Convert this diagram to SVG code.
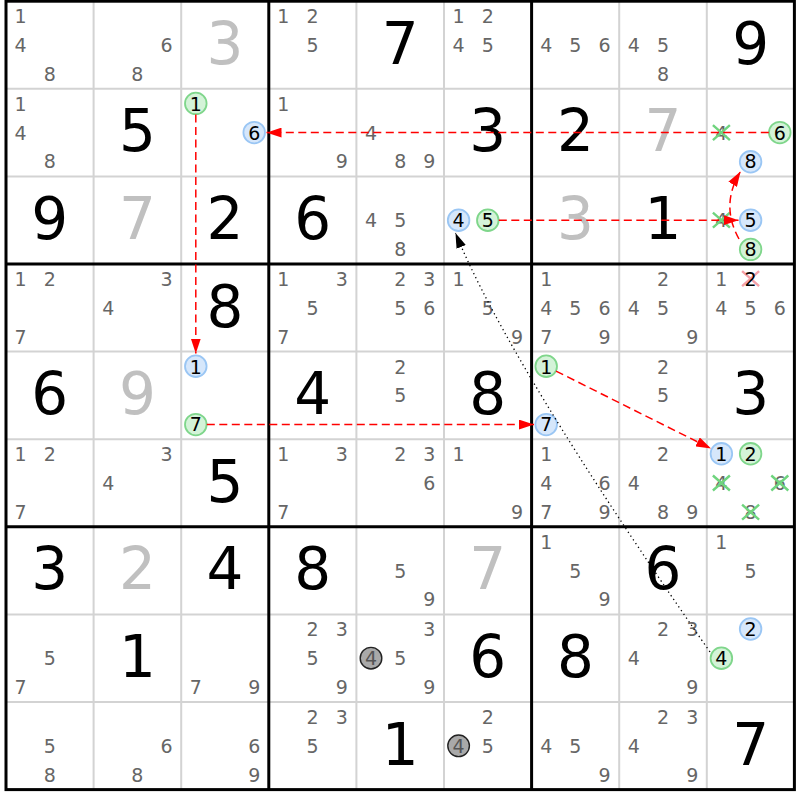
<svg xmlns="http://www.w3.org/2000/svg" width="800" height="800" viewBox="0 0 800 800">
<defs>
<style>
text{font-family:"DejaVu Sans","Liberation Sans",sans-serif;text-anchor:middle}
.g{font-size:58px;fill:#000}
.s{fill:#c0c0c0}
.c{font-size:19px;fill:#666}
.k{font-size:19px;fill:#000}
.kx{font-size:19px;fill:#555}
.cg{fill:#d4f3d8;stroke:#7fd68b;stroke-width:1.8}
.cb{fill:#d6e7fb;stroke:#9ac6f4;stroke-width:1.8}
.cx{fill:#a9a9a9;stroke:#222;stroke-width:1.4}
.xg{stroke:#6fd47e;stroke-width:2.4;fill:none}
.xr{stroke:#f5a0a8;stroke-width:2.4;fill:none}
.thin{stroke:#d3d3d3;stroke-width:2}
.thick{stroke:#000;stroke-width:3}
.ln{fill:none;stroke:#f00;stroke-width:1.5;stroke-dasharray:8 4.5}
</style>
<marker id="ar" viewBox="0 0 15 10" refX="15" refY="5" markerWidth="15" markerHeight="10" markerUnits="userSpaceOnUse" orient="auto"><path d="M0,0 L15,5 L0,10 z" fill="#f00"/></marker>
<marker id="ab" viewBox="0 0 15 10" refX="15" refY="5" markerWidth="15" markerHeight="10" markerUnits="userSpaceOnUse" orient="auto"><path d="M0,0 L15,5 L0,10 z" fill="#000"/></marker>
</defs>
<rect width="800" height="800" fill="#fff"/>
<g id="grid">
<path class="thin" d="M93.6,1.2V789.6M181.2,1.2V789.6M356.4,1.2V789.6M444,1.2V789.6M619.2,1.2V789.6M706.8,1.2V789.6M6,88.8H794.4M6,176.4H794.4M6,351.6H794.4M6,439.2H794.4M6,614.4H794.4M6,702H794.4"/>
<path class="thick" d="M268.8,1.2V789.6M531.6,1.2V789.6M6,264H794.4M6,526.8H794.4"/>
<rect x="6" y="1.2" width="788.4" height="788.4" fill="none" stroke="#000" stroke-width="3"/>
</g>

<g id="r1c1" transform="translate(6,1.2)"><text class="c" x="14.6" y="22">1</text><text class="c" x="14.6" y="50.8">4</text><text class="c" x="43.8" y="79.5">8</text></g>
<g id="r1c2" transform="translate(93.6,1.2)"><text class="c" x="73" y="50.8">6</text><text class="c" x="43.8" y="79.5">8</text></g>
<g id="r1c3" transform="translate(181.2,1.2)"><text class="g s" x="43.8" y="62.5">3</text></g>
<g id="r1c4" transform="translate(268.8,1.2)"><text class="c" x="14.6" y="22">1</text><text class="c" x="43.8" y="22">2</text><text class="c" x="43.8" y="50.8">5</text></g>
<g id="r1c5" transform="translate(356.4,1.2)"><text class="g" x="43.8" y="62.5">7</text></g>
<g id="r1c6" transform="translate(444,1.2)"><text class="c" x="14.6" y="22">1</text><text class="c" x="43.8" y="22">2</text><text class="c" x="14.6" y="50.8">4</text><text class="c" x="43.8" y="50.8">5</text></g>
<g id="r1c7" transform="translate(531.6,1.2)"><text class="c" x="14.6" y="50.8">4</text><text class="c" x="43.8" y="50.8">5</text><text class="c" x="73" y="50.8">6</text></g>
<g id="r1c8" transform="translate(619.2,1.2)"><text class="c" x="14.6" y="50.8">4</text><text class="c" x="43.8" y="50.8">5</text><text class="c" x="43.8" y="79.5">8</text></g>
<g id="r1c9" transform="translate(706.8,1.2)"><text class="g" x="43.8" y="62.5">9</text></g>

<g id="r2c1" transform="translate(6,88.8)"><text class="c" x="14.6" y="22">1</text><text class="c" x="14.6" y="50.8">4</text><text class="c" x="43.8" y="79.5">8</text></g>
<g id="r2c2" transform="translate(93.6,88.8)"><text class="g" x="43.8" y="62.5">5</text></g>
<g id="r2c3" transform="translate(181.2,88.8)"><circle class="cg" cx="14.6" cy="14.6" r="10.8"/><text class="k" x="14.6" y="22">1</text><circle class="cb" cx="73" cy="43.8" r="10.8"/><text class="k" x="73" y="50.8">6</text></g>
<g id="r2c4" transform="translate(268.8,88.8)"><text class="c" x="14.6" y="22">1</text><text class="c" x="73" y="79.5">9</text></g>
<g id="r2c5" transform="translate(356.4,88.8)"><text class="c" x="14.6" y="50.8">4</text><text class="c" x="43.8" y="79.5">8</text><text class="c" x="73" y="79.5">9</text></g>
<g id="r2c6" transform="translate(444,88.8)"><text class="g" x="43.8" y="62.5">3</text></g>
<g id="r2c7" transform="translate(531.6,88.8)"><text class="g" x="43.8" y="62.5">2</text></g>
<g id="r2c8" transform="translate(619.2,88.8)"><text class="g s" x="43.8" y="62.5">7</text></g>
<g id="r2c9" transform="translate(706.8,88.8)"><text class="c" x="14.6" y="50.8">4</text><path class="xg" d="M6.1,36.3L23.1,51.3M23.1,36.3L6.1,51.3"/><circle class="cg" cx="73" cy="43.8" r="10.8"/><text class="k" x="73" y="50.8">6</text><circle class="cb" cx="43.8" cy="73" r="10.8"/><text class="k" x="43.8" y="79.5">8</text></g>

<g id="r3c1" transform="translate(6,176.4)"><text class="g" x="43.8" y="62.5">9</text></g>
<g id="r3c2" transform="translate(93.6,176.4)"><text class="g s" x="43.8" y="62.5">7</text></g>
<g id="r3c3" transform="translate(181.2,176.4)"><text class="g" x="43.8" y="62.5">2</text></g>
<g id="r3c4" transform="translate(268.8,176.4)"><text class="g" x="43.8" y="62.5">6</text></g>
<g id="r3c5" transform="translate(356.4,176.4)"><text class="c" x="14.6" y="50.8">4</text><text class="c" x="43.8" y="50.8">5</text><text class="c" x="43.8" y="79.5">8</text></g>
<g id="r3c6" transform="translate(444,176.4)"><circle class="cb" cx="14.6" cy="43.8" r="10.8"/><text class="k" x="14.6" y="50.8">4</text><circle class="cg" cx="43.8" cy="43.8" r="10.8"/><text class="k" x="43.8" y="50.8">5</text></g>
<g id="r3c7" transform="translate(531.6,176.4)"><text class="g s" x="43.8" y="62.5">3</text></g>
<g id="r3c8" transform="translate(619.2,176.4)"><text class="g" x="43.8" y="62.5">1</text></g>
<g id="r3c9" transform="translate(706.8,176.4)"><text class="c" x="14.6" y="50.8">4</text><path class="xg" d="M6.1,36.3L23.1,51.3M23.1,36.3L6.1,51.3"/><circle class="cb" cx="43.8" cy="43.8" r="10.8"/><text class="k" x="43.8" y="50.8">5</text><circle class="cg" cx="43.8" cy="73" r="10.8"/><text class="k" x="43.8" y="79.5">8</text></g>

<g id="r4c1" transform="translate(6,264)"><text class="c" x="14.6" y="22">1</text><text class="c" x="43.8" y="22">2</text><text class="c" x="14.6" y="79.5">7</text></g>
<g id="r4c2" transform="translate(93.6,264)"><text class="c" x="73" y="22">3</text><text class="c" x="14.6" y="50.8">4</text></g>
<g id="r4c3" transform="translate(181.2,264)"><text class="g" x="43.8" y="62.5">8</text></g>
<g id="r4c4" transform="translate(268.8,264)"><text class="c" x="14.6" y="22">1</text><text class="c" x="73" y="22">3</text><text class="c" x="43.8" y="50.8">5</text><text class="c" x="14.6" y="79.5">7</text></g>
<g id="r4c5" transform="translate(356.4,264)"><text class="c" x="43.8" y="22">2</text><text class="c" x="73" y="22">3</text><text class="c" x="43.8" y="50.8">5</text><text class="c" x="73" y="50.8">6</text></g>
<g id="r4c6" transform="translate(444,264)"><text class="c" x="14.6" y="22">1</text><text class="c" x="43.8" y="50.8">5</text><text class="c" x="73" y="79.5">9</text></g>
<g id="r4c7" transform="translate(531.6,264)"><text class="c" x="14.6" y="22">1</text><text class="c" x="14.6" y="50.8">4</text><text class="c" x="43.8" y="50.8">5</text><text class="c" x="73" y="50.8">6</text><text class="c" x="14.6" y="79.5">7</text><text class="c" x="73" y="79.5">9</text></g>
<g id="r4c8" transform="translate(619.2,264)"><text class="c" x="43.8" y="22">2</text><text class="c" x="14.6" y="50.8">4</text><text class="c" x="43.8" y="50.8">5</text><text class="c" x="73" y="79.5">9</text></g>
<g id="r4c9" transform="translate(706.8,264)"><text class="c" x="14.6" y="22">1</text><path class="xr" d="M35.3,7.1L52.3,22.1M52.3,7.1L35.3,22.1"/><text class="k" x="43.8" y="22">2</text><text class="c" x="14.6" y="50.8">4</text><text class="c" x="43.8" y="50.8">5</text><text class="c" x="73" y="50.8">6</text></g>

<g id="r5c1" transform="translate(6,351.6)"><text class="g" x="43.8" y="62.5">6</text></g>
<g id="r5c2" transform="translate(93.6,351.6)"><text class="g s" x="43.8" y="62.5">9</text></g>
<g id="r5c3" transform="translate(181.2,351.6)"><circle class="cb" cx="14.6" cy="14.6" r="10.8"/><text class="k" x="14.6" y="22">1</text><circle class="cg" cx="14.6" cy="73" r="10.8"/><text class="k" x="14.6" y="79.5">7</text></g>
<g id="r5c4" transform="translate(268.8,351.6)"><text class="g" x="43.8" y="62.5">4</text></g>
<g id="r5c5" transform="translate(356.4,351.6)"><text class="c" x="43.8" y="22">2</text><text class="c" x="43.8" y="50.8">5</text></g>
<g id="r5c6" transform="translate(444,351.6)"><text class="g" x="43.8" y="62.5">8</text></g>
<g id="r5c7" transform="translate(531.6,351.6)"><circle class="cg" cx="14.6" cy="14.6" r="10.8"/><text class="k" x="14.6" y="22">1</text><circle class="cb" cx="14.6" cy="73" r="10.8"/><text class="k" x="14.6" y="79.5">7</text></g>
<g id="r5c8" transform="translate(619.2,351.6)"><text class="c" x="43.8" y="22">2</text><text class="c" x="43.8" y="50.8">5</text></g>
<g id="r5c9" transform="translate(706.8,351.6)"><text class="g" x="43.8" y="62.5">3</text></g>

<g id="r6c1" transform="translate(6,439.2)"><text class="c" x="14.6" y="22">1</text><text class="c" x="43.8" y="22">2</text><text class="c" x="14.6" y="79.5">7</text></g>
<g id="r6c2" transform="translate(93.6,439.2)"><text class="c" x="73" y="22">3</text><text class="c" x="14.6" y="50.8">4</text></g>
<g id="r6c3" transform="translate(181.2,439.2)"><text class="g" x="43.8" y="62.5">5</text></g>
<g id="r6c4" transform="translate(268.8,439.2)"><text class="c" x="14.6" y="22">1</text><text class="c" x="73" y="22">3</text><text class="c" x="14.6" y="79.5">7</text></g>
<g id="r6c5" transform="translate(356.4,439.2)"><text class="c" x="43.8" y="22">2</text><text class="c" x="73" y="22">3</text><text class="c" x="73" y="50.8">6</text></g>
<g id="r6c6" transform="translate(444,439.2)"><text class="c" x="14.6" y="22">1</text><text class="c" x="73" y="79.5">9</text></g>
<g id="r6c7" transform="translate(531.6,439.2)"><text class="c" x="14.6" y="22">1</text><text class="c" x="14.6" y="50.8">4</text><text class="c" x="73" y="50.8">6</text><text class="c" x="14.6" y="79.5">7</text><text class="c" x="73" y="79.5">9</text></g>
<g id="r6c8" transform="translate(619.2,439.2)"><text class="c" x="43.8" y="22">2</text><text class="c" x="14.6" y="50.8">4</text><text class="c" x="43.8" y="79.5">8</text><text class="c" x="73" y="79.5">9</text></g>
<g id="r6c9" transform="translate(706.8,439.2)"><circle class="cb" cx="14.6" cy="14.6" r="10.8"/><text class="k" x="14.6" y="22">1</text><circle class="cg" cx="43.8" cy="14.6" r="10.8"/><text class="k" x="43.8" y="22">2</text><text class="c" x="14.6" y="50.8">4</text><path class="xg" d="M6.1,36.3L23.1,51.3M23.1,36.3L6.1,51.3"/><text class="c" x="73" y="50.8">6</text><path class="xg" d="M64.5,36.3L81.5,51.3M81.5,36.3L64.5,51.3"/><text class="c" x="43.8" y="79.5">8</text><path class="xg" d="M35.3,65.5L52.3,80.5M52.3,65.5L35.3,80.5"/></g>

<g id="r7c1" transform="translate(6,526.8)"><text class="g" x="43.8" y="62.5">3</text></g>
<g id="r7c2" transform="translate(93.6,526.8)"><text class="g s" x="43.8" y="62.5">2</text></g>
<g id="r7c3" transform="translate(181.2,526.8)"><text class="g" x="43.8" y="62.5">4</text></g>
<g id="r7c4" transform="translate(268.8,526.8)"><text class="g" x="43.8" y="62.5">8</text></g>
<g id="r7c5" transform="translate(356.4,526.8)"><text class="c" x="43.8" y="50.8">5</text><text class="c" x="73" y="79.5">9</text></g>
<g id="r7c6" transform="translate(444,526.8)"><text class="g s" x="43.8" y="62.5">7</text></g>
<g id="r7c7" transform="translate(531.6,526.8)"><text class="c" x="14.6" y="22">1</text><text class="c" x="43.8" y="50.8">5</text><text class="c" x="73" y="79.5">9</text></g>
<g id="r7c8" transform="translate(619.2,526.8)"><text class="g" x="43.8" y="62.5">6</text></g>
<g id="r7c9" transform="translate(706.8,526.8)"><text class="c" x="14.6" y="22">1</text><text class="c" x="43.8" y="50.8">5</text></g>

<g id="r8c1" transform="translate(6,614.4)"><text class="c" x="43.8" y="50.8">5</text><text class="c" x="14.6" y="79.5">7</text></g>
<g id="r8c2" transform="translate(93.6,614.4)"><text class="g" x="43.8" y="62.5">1</text></g>
<g id="r8c3" transform="translate(181.2,614.4)"><text class="c" x="14.6" y="79.5">7</text><text class="c" x="73" y="79.5">9</text></g>
<g id="r8c4" transform="translate(268.8,614.4)"><text class="c" x="43.8" y="22">2</text><text class="c" x="73" y="22">3</text><text class="c" x="43.8" y="50.8">5</text><text class="c" x="73" y="79.5">9</text></g>
<g id="r8c5" transform="translate(356.4,614.4)"><text class="c" x="73" y="22">3</text><circle class="cx" cx="14.6" cy="43.8" r="10.8"/><text class="kx" x="14.6" y="50.8">4</text><text class="c" x="43.8" y="50.8">5</text><text class="c" x="73" y="79.5">9</text></g>
<g id="r8c6" transform="translate(444,614.4)"><text class="g" x="43.8" y="62.5">6</text></g>
<g id="r8c7" transform="translate(531.6,614.4)"><text class="g" x="43.8" y="62.5">8</text></g>
<g id="r8c8" transform="translate(619.2,614.4)"><text class="c" x="43.8" y="22">2</text><text class="c" x="73" y="22">3</text><text class="c" x="14.6" y="50.8">4</text><text class="c" x="73" y="79.5">9</text></g>
<g id="r8c9" transform="translate(706.8,614.4)"><circle class="cb" cx="43.8" cy="14.6" r="10.8"/><text class="k" x="43.8" y="22">2</text><circle class="cg" cx="14.6" cy="43.8" r="10.8"/><text class="k" x="14.6" y="50.8">4</text></g>

<g id="r9c1" transform="translate(6,702)"><text class="c" x="43.8" y="50.8">5</text><text class="c" x="43.8" y="79.5">8</text></g>
<g id="r9c2" transform="translate(93.6,702)"><text class="c" x="73" y="50.8">6</text><text class="c" x="43.8" y="79.5">8</text></g>
<g id="r9c3" transform="translate(181.2,702)"><text class="c" x="73" y="50.8">6</text><text class="c" x="73" y="79.5">9</text></g>
<g id="r9c4" transform="translate(268.8,702)"><text class="c" x="43.8" y="22">2</text><text class="c" x="73" y="22">3</text><text class="c" x="43.8" y="50.8">5</text></g>
<g id="r9c5" transform="translate(356.4,702)"><text class="g" x="43.8" y="62.5">1</text></g>
<g id="r9c6" transform="translate(444,702)"><text class="c" x="43.8" y="22">2</text><circle class="cx" cx="14.6" cy="43.8" r="10.8"/><text class="kx" x="14.6" y="50.8">4</text><text class="c" x="43.8" y="50.8">5</text></g>
<g id="r9c7" transform="translate(531.6,702)"><text class="c" x="14.6" y="50.8">4</text><text class="c" x="43.8" y="50.8">5</text><text class="c" x="73" y="79.5">9</text></g>
<g id="r9c8" transform="translate(619.2,702)"><text class="c" x="43.8" y="22">2</text><text class="c" x="73" y="22">3</text><text class="c" x="14.6" y="50.8">4</text><text class="c" x="73" y="79.5">9</text></g>
<g id="r9c9" transform="translate(706.8,702)"><text class="g" x="43.8" y="62.5">7</text></g>

<g id="connectors">
<path class="ln" d="M195.8,114.5V353.5" marker-end="url(#ar)"/>
<path class="ln" d="M768.8,132.6H266.5" marker-end="url(#ar)"/>
<path class="ln" d="M498.8,220.2H738.5" marker-end="url(#ar)"/>
<path class="ln" d="M739,239Q720,205 740.5,171.5" marker-end="url(#ar)"/>
<path class="ln" d="M206.8,424.6H534" marker-end="url(#ar)"/>
<path class="ln" d="M556,371.1L711,448.6" marker-end="url(#ar)"/>
<path d="M710,652Q508.5,363 455.5,233" fill="none" stroke="#000" stroke-width="1.3" stroke-dasharray="1.3 3.2" marker-end="url(#ab)"/>
</g>
</svg>
